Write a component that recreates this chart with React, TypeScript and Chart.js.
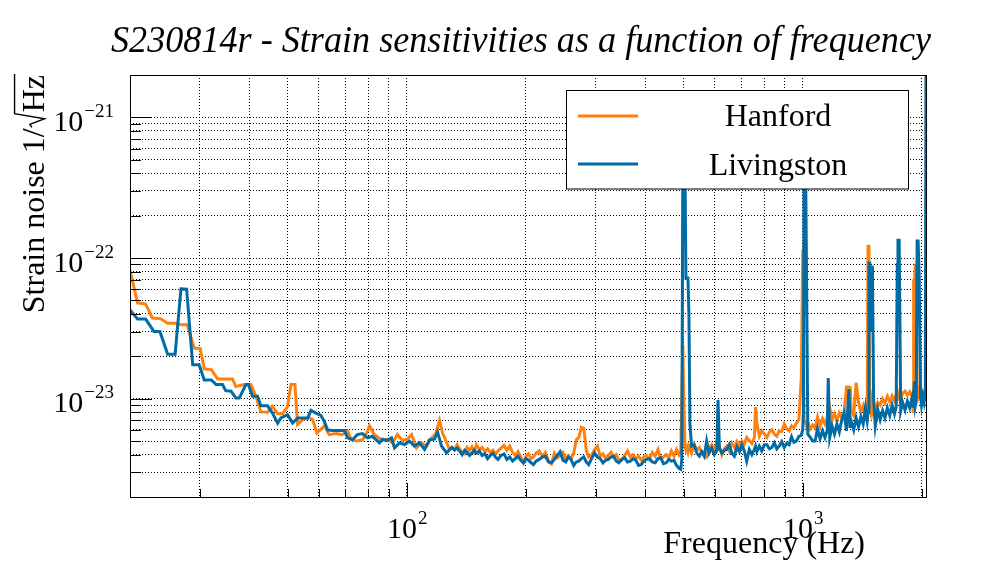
import { useEffect, useRef } from "react";
import { Chart, registerables } from "chart.js";

Chart.register(...registerables);

// frequencies in Hz, strain noise in units of 1e-24 / sqrt(Hz)

// below 130 Hz each detector has its own frequency points
const hanfordLowHz = [
  20, 20.9, 21.9, 22.8, 23.9, 24.9, 26.1, 26.9, 27.9, 29.05,
  30.1, 30.8, 32.1, 33.3, 36.3, 37.0, 38.9, 40.4, 41.6, 42.8,
  44.5, 45.8, 47.2, 48.6, 50.0, 51.0, 52.2, 53.0, 54.6, 56.75,
  57.85, 59.3, 61.9, 63.7, 66.4, 68.8, 70.8, 72.5, 74.6, 77.3,
  79.2, 80.5, 82.9, 86.3, 89.4, 92.0, 94.7, 97.5, 100.4, 102.8,
  105.8, 109.0, 112.2, 115.5, 118.2, 121.0, 123.1, 125.3, 128.2,
];
const hanfordLow = [
  82, 48, 47, 37.4, 37, 34.4, 34.4, 33.5, 33.5, 22.9,
  22.7, 16.3, 16.1, 13.8, 13.8, 12.2, 12.6, 12.6, 10.4, 8.05,
  8.0, 8.8, 7.8, 7.8, 8.8, 12.6, 12.6, 6.55, 7.1, 7.3,
  7.1, 5.7, 6.4, 5.55, 5.65, 5.55, 5.9, 5.1, 5.0, 5.1,
  5.7, 6.4, 5.55, 5.1, 5.15, 4.85, 5.55, 5.05, 5.15, 5.55,
  4.47, 4.85, 4.6, 5.26, 5.6, 7.0, 5.7, 5.1, 4.35,
];

const livingstonLowHz = [
  20, 20.9, 21.9, 23.0, 23.8, 24.9, 26.0, 26.9, 27.8, 28.8,
  29.9, 30.8, 32.1, 33.0, 34.25, 34.9, 36.0, 37.0, 37.75, 39.25,
  39.8, 40.8, 42.0, 42.8, 44.5, 45.8, 47.2, 48.1, 50.0, 51.5,
  53.0, 56.2, 57.3, 59.0, 60.7, 61.9, 63.1, 64.9, 67.2, 69.6,
  70.9, 72.9, 75.0, 77.3, 79.6, 81.9, 85.3, 86.8, 88.9, 91.5,
  93.1, 95.8, 98.7, 101.6, 104.6, 107.7, 110.9, 114.1, 117.5, 119.6,
  122.4, 126.0,
];
const livingstonLow = [
  42.8, 36.8, 36.8, 30, 30, 20.7, 20.7, 60.3, 60, 17.4,
  17.4, 13.6, 13.6, 12.6, 12.6, 11.4, 11.3, 10.1, 10.1, 12.6,
  12.6, 10.4, 10.4, 8.9, 8.9, 7.9, 6.7, 7.3, 7.7, 6.7,
  7.3, 7.3, 8.26, 7.9, 7.6, 6.9, 6.0, 5.93, 5.93, 5.93,
  5.26, 5.1, 5.55, 5.65, 5.26, 5.4, 4.85, 5.15, 5.04, 5.26,
  4.47, 4.85, 4.72, 4.98, 4.6, 4.85, 4.35, 5.1, 5.15, 5.8,
  4.6, 4.12,
];

// from 130 Hz up both detectors share the frequency points
const bandHz = [
  130, 132, 134, 136, 138, 140, 142, 144, 146, 148,
  150, 152.5, 155, 157.5, 160, 162.5, 165, 167.5, 170, 173,
  176, 179, 182, 185, 188, 191, 194, 197, 200, 203,
  206, 209, 212, 216, 220, 224, 228, 232, 236, 240,
  244, 248, 252, 256, 260, 264, 268, 272, 276, 280,
  284, 288, 293, 298, 303, 308, 313, 318, 323, 328,
  333, 338, 343, 349, 355, 361, 367, 373, 379, 385,
  391, 397, 403, 410, 417, 424, 431, 438, 445, 452,
  459, 466, 473, 480, 487, 492, 495, 498, 501, 504,
  507, 510, 513, 516, 519, 524, 532, 540, 548, 556,
  564, 572, 580, 589, 598, 607, 611, 616, 625, 634,
  643, 652, 662, 672, 682, 692, 702, 712, 722, 733,
  744, 755, 760, 766, 777, 788, 800, 812, 824, 836,
  848, 860, 872, 885, 898, 911, 924, 937, 950, 964,
  978, 992, 1000, 1004, 1008, 1016, 1022, 1030, 1045, 1060,
  1075, 1090, 1106, 1122, 1138, 1154, 1160, 1170, 1186, 1203,
  1220, 1237, 1254, 1272, 1290, 1308, 1318, 1326, 1345, 1364,
  1383, 1402, 1421, 1440, 1455, 1462, 1470, 1477, 1485, 1492,
  1500, 1510, 1525, 1547, 1569, 1591, 1613, 1636, 1659, 1682,
  1705, 1722, 1733, 1740, 1752, 1760, 1768, 1788, 1813, 1838,
  1863, 1888, 1900, 1906, 1915, 1925, 1935, 1945, 1956, 1968,
  1976, 1985, 1995, 2010, 2025, 2040, 2048,
];
const hanfordBand = [
  4.5, 4.35, 4.7, 4.4, 4.15, 4.05, 4.5, 4.3, 4.55, 4.2,
  4.7, 4.35, 4.5, 4.2, 4.4, 4.15, 4.3, 4.05, 4.25, 4.45,
  4.65, 4.3, 4.6, 4.15, 3.95, 4.2, 3.85, 3.5, 3.9, 4.05,
  3.75, 3.85, 4.1, 4.25, 3.9, 4.15, 3.6, 3.45, 4.1, 3.8,
  3.95, 4.15, 3.7, 3.95, 3.75, 4.1, 5.1, 5.3, 6.25, 6.15,
  4.3, 3.85, 3.95, 4.35, 4.6, 3.9, 4.05, 3.75, 3.95, 4.15,
  3.85, 4.0, 3.7, 3.65, 3.95, 4.25, 3.85, 4.0, 3.75, 3.9,
  3.65, 3.85, 3.95, 3.7, 4.15, 3.9, 4.35, 3.75, 3.85, 4.0,
  3.8, 4.25, 3.9, 4.35, 4.0, 4.3, 9.6, 24, 9.6, 4.6,
  4.3, 4.5, 4.2, 4.6, 4.45, 4.1, 4.72, 4.3, 4.5, 4.1,
  4.0, 3.85, 4.4, 4.7, 4.3, 4.95, 4.4, 4.55, 4.0, 4.4,
  4.6, 4.25, 4.85, 4.5, 4.95, 4.6, 5.0, 4.75, 5.3, 5.05,
  4.8, 5.3, 8.7, 6.7, 5.4, 5.9, 5.6, 5.3, 5.8, 6.0,
  5.6, 5.4, 5.9, 5.85, 6.6, 6.1, 5.9, 6.4, 6.2, 6.7,
  7.1, 14.4, 114, 20, 6.9, 6.8, 6.4, 6.9, 6.1, 6.5,
  6.2, 7.4, 6.4, 7.2, 6.6, 7.4, 6.9, 8.6, 7.0, 7.8,
  7.0, 7.9, 7.3, 8.0, 12.1, 12.1, 12.0, 8.1, 7.6, 13.0,
  9.5, 8.0, 8.9, 7.6, 8.8, 124, 60, 9.0, 8.2, 9.4,
  8.3, 9.2, 8.2, 9.4, 9.0, 10.0, 9.3, 10.4, 9.5, 10.5,
  9.7, 10.6, 9.9, 10.8, 10.0, 10.6, 9.8, 10.9, 11.3, 10.6,
  11.2, 10.4, 8.1, 69, 69, 89, 89, 11, 10.4, 11.3,
  10.6, 11.4, 10.7, 11.2, 10.6, 11.4, 11.5,
];
const livingstonBand = [
  4.5, 4.3, 4.45, 4.25, 4.0, 4.3, 4.15, 3.95, 4.1, 4.3,
  4.1, 4.25, 3.95, 4.05, 3.75, 3.95, 4.1, 3.85, 3.7, 3.95,
  4.05, 3.7, 3.85, 3.6, 3.75, 3.9, 3.65, 3.5, 3.75, 3.65,
  3.5, 3.4, 3.6, 3.7, 3.85, 3.9, 3.55, 3.5, 3.7, 3.95,
  4.2, 3.65, 3.55, 3.85, 3.7, 3.35, 3.55, 3.6, 3.75, 3.85,
  3.55, 3.4, 3.75, 4.1, 3.85, 3.75, 3.5, 3.65, 3.7, 3.85,
  3.9, 3.6, 3.5, 3.7, 3.8, 3.55, 3.6, 3.75, 3.65, 3.35,
  3.4, 3.6, 3.7, 3.75, 3.55, 3.5, 3.75, 3.8, 3.45, 3.5,
  3.7, 3.6, 3.65, 3.35, 3.2, 3.15, 3.7, 500, 500, 500,
  72, 72, 72, 39, 6.6, 4.6, 4.7, 4.1, 3.9, 4.2,
  3.9, 5.0, 4.1, 4.45, 4.0, 4.3, 9.8, 4.45, 4.1, 4.3,
  4.35, 4.7, 4.1, 3.9, 4.55, 4.2, 4.7, 4.25, 3.6, 4.35,
  4.0, 4.35, 4.6, 4.2, 4.6, 4.25, 4.7, 4.7, 4.4, 4.5,
  4.85, 4.4, 4.6, 4.95, 4.5, 4.8, 4.7, 5.35, 4.9, 5.0,
  5.4, 5.5, 6.0, 8, 600, 600, 90, 5.6, 5.3, 5.0,
  5.0, 6.1, 5.2, 5.9, 5.3, 6.0, 14.0, 5.3, 6.4, 5.6,
  6.6, 5.8, 7.0, 7.9, 5.9, 11.7, 6.2, 6.9, 6.0, 7.3,
  6.3, 7.4, 6.6, 8.6, 7.0, 8.0, 92, 92, 30, 86,
  86, 10, 6.4, 8.4, 7.1, 8.2, 7.3, 8.6, 7.6, 9.0,
  7.8, 8.8, 90, 134, 134, 134, 8.2, 9.4, 8.3, 9.6,
  8.6, 10.1, 8.8, 9.8, 13.3, 8.9, 9.6, 132, 132, 77,
  77, 10.2, 9.0, 10.4, 9.4, 10.98, 3000,
];

const seriesNames = ["Hanford", "Livingston"];
const seriesColors = ["#ff800e", "#006ba4"];

const xRange = [20, 2048];
const yRange = [2e-24, 2e-21];
const xTickExponents = [2, 3];
const yTickExponents = [-23, -22, -21];
const gridSteps = [1, 2, 3, 4, 5, 6, 7, 8, 9];

const SERIF = '"Liberation Serif", "DejaVu Serif", serif';

function logGrid(min: number, max: number) {
  const out: number[] = [];
  for (let e = Math.floor(Math.log10(min)); e <= Math.ceil(Math.log10(max)); e++) {
    for (const s of gridSteps) {
      const v = s * Math.pow(10, e);
      if (v >= min * 0.9999 && v <= max * 1.0001) out.push(v);
    }
  }
  return out;
}

const xGrid = logGrid(xRange[0], xRange[1]);
const yGrid = logGrid(yRange[0], yRange[1]);

function isDecade(v: number) {
  const l = Math.log10(v);
  return Math.abs(l - Math.round(l)) < 1e-6;
}

function drawPower(ctx: CanvasRenderingContext2D, exp: number, x: number, base: number, align: string) {
  const big = `30px ${SERIF}`;
  const small = `19px ${SERIF}`;
  const txt = exp < 0 ? `\u2212${-exp}` : `${exp}`;
  ctx.font = big;
  const w1 = ctx.measureText("10").width;
  ctx.font = small;
  const w2 = ctx.measureText(txt).width;
  const x0 = align === "center" ? x - (w1 + w2) / 2 : x - (w1 + w2);
  ctx.textAlign = "left";
  ctx.textBaseline = "alphabetic";
  ctx.font = big;
  ctx.fillText("10", x0, base);
  ctx.font = small;
  ctx.fillText(txt, x0 + w1 + 1, base - 14);
}

// ROOT-like frame, ticks, labels, titles and legend
const rootDecor = {
  id: "rootDecor",
  afterDraw(chart: any) {
    const { ctx, chartArea: a } = chart;
    const xs = chart.scales.x;
    const ys = chart.scales.y;
    ctx.save();
    ctx.setLineDash([]);

    // legend box
    ctx.fillStyle = "#fff";
    ctx.fillRect(566, 90.5, 342, 98.5);
    ctx.strokeStyle = "#000";
    ctx.lineWidth = 1;
    ctx.strokeRect(566.5, 90.5, 342, 98.5);
    const rows = [116, 164];
    const bases = [125.7, 175];
    seriesNames.forEach((name, i) => {
      ctx.strokeStyle = seriesColors[i];
      ctx.lineWidth = 3;
      ctx.beginPath();
      ctx.moveTo(578, rows[i]);
      ctx.lineTo(638, rows[i]);
      ctx.stroke();
      ctx.fillStyle = "#000";
      ctx.font = `32px ${SERIF}`;
      ctx.textAlign = "center";
      ctx.textBaseline = "alphabetic";
      ctx.fillText(name, 778, bases[i]);
    });

    // frame
    ctx.strokeStyle = "#000";
    ctx.lineWidth = 1;
    ctx.strokeRect(Math.round(a.left) + 0.5, Math.round(a.top) + 0.5, Math.round(a.right - a.left), Math.round(a.bottom - a.top));

    // tick marks
    ctx.beginPath();
    for (const v of yGrid) {
      const py = Math.round(ys.getPixelForValue(v)) + 0.5;
      const len = isDecade(v) ? 22 : 11;
      ctx.moveTo(a.left, py);
      ctx.lineTo(a.left + len, py);
    }
    for (const v of xGrid) {
      const px = Math.round(xs.getPixelForValue(v)) + 0.5;
      const len = isDecade(v) ? 14 : 8;
      ctx.moveTo(px, a.bottom);
      ctx.lineTo(px, a.bottom - len);
    }
    ctx.stroke();

    // tick labels
    ctx.fillStyle = "#000";
    for (const e of yTickExponents) {
      const py = ys.getPixelForValue(Math.pow(10, e));
      drawPower(ctx, e, 113, py + 13.5, "right");
    }
    for (const e of xTickExponents) {
      const px = xs.getPixelForValue(Math.pow(10, e));
      drawPower(ctx, e, px, 538, "center");
    }

    // x title
    ctx.font = `32px ${SERIF}`;
    ctx.textAlign = "right";
    ctx.textBaseline = "alphabetic";
    ctx.fillText("Frequency (Hz)", 865, 553);

    // y title with square root
    ctx.save();
    ctx.translate(44, 75);
    ctx.rotate(-Math.PI / 2);
    const S = 32;
    ctx.font = `${S}px ${SERIF}`;
    ctx.textAlign = "left";
    const t1 = "Strain noise 1/";
    const t2 = "Hz";
    const w1 = ctx.measureText(t1).width;
    const w2 = ctx.measureText(t2).width;
    const rad = 0.5 * S;
    const sx = -(w1 + rad + w2);
    ctx.fillText(t1, sx, 0);
    const rx = sx + w1;
    ctx.strokeStyle = "#000";
    ctx.lineWidth = 1.4;
    ctx.beginPath();
    ctx.moveTo(rx + 1, -0.38 * S);
    ctx.lineTo(rx + 4, -0.44 * S);
    ctx.lineTo(rx + 0.3 * S, 0.02 * S);
    ctx.lineTo(rx + 0.46 * S, -0.92 * S);
    ctx.lineTo(rx + rad + w2 + 1, -0.92 * S);
    ctx.stroke();
    ctx.fillText(t2, rx + rad, 0);
    ctx.restore();

    // main title, condensed like the ROOT rendering
    ctx.save();
    ctx.font = `italic 38px ${SERIF}`;
    const title = "S230814r - Strain sensitivities as a function of frequency";
    const tw = ctx.measureText(title).width;
    ctx.translate(521, 52);
    ctx.scale(820 / tw, 1);
    ctx.textAlign = "center";
    ctx.textBaseline = "alphabetic";
    ctx.fillStyle = "#000";
    ctx.fillText(title, 0, 0);
    ctx.restore();

    ctx.restore();
  },
};

export default function App() {
  const canvasRef = useRef<HTMLCanvasElement>(null);

  useEffect(() => {
    if (!canvasRef.current) return;

    const toPoints = (hz: number[], strain: number[]) =>
      hz.map((f, i) => ({ x: f, y: strain[i] * 1e-24 }));

    const gridOpts = {
      color: "#000",
      lineWidth: 1,
      drawTicks: false,
    };

    const chart = new Chart(canvasRef.current, {
      type: "line",
      data: {
        datasets: [
          {
            label: seriesNames[0],
            data: [...toPoints(hanfordLowHz, hanfordLow), ...toPoints(bandHz, hanfordBand)],
            borderColor: seriesColors[0],
            borderWidth: 3,
            pointRadius: 0,
            tension: 0,
            order: 2,
          },
          {
            label: seriesNames[1],
            data: [...toPoints(livingstonLowHz, livingstonLow), ...toPoints(bandHz, livingstonBand)],
            borderColor: seriesColors[1],
            borderWidth: 3,
            pointRadius: 0,
            tension: 0,
            order: 1,
          },
        ],
      },
      options: {
        animation: false,
        responsive: true,
        maintainAspectRatio: false,
        events: [],
        layout: {
          autoPadding: false,
          padding: { left: 130, top: 75, right: 70, bottom: 75 },
        },
        plugins: {
          legend: { display: false },
          tooltip: { enabled: false },
          title: { display: false },
        },
        scales: {
          x: {
            type: "logarithmic",
            min: xRange[0],
            max: xRange[1],
            ticks: { display: false },
            grid: gridOpts,
            border: { display: false, dash: [1, 2] },
            afterBuildTicks: (scale: any) => {
              scale.ticks = xGrid.map((v) => ({ value: v }));
            },
          },
          y: {
            type: "logarithmic",
            min: yRange[0],
            max: yRange[1],
            ticks: { display: false },
            grid: gridOpts,
            border: { display: false, dash: [1, 2] },
            afterBuildTicks: (scale: any) => {
              scale.ticks = yGrid.map((v) => ({ value: v }));
            },
          },
        },
      },
      plugins: [rootDecor],
    });

    return () => {
      chart.destroy();
    };
  }, []);

  return (
    <div style={{ position: "absolute", left: 0, top: 0, width: 996, height: 572, background: "#fff" }}>
      <canvas ref={canvasRef}></canvas>
    </div>
  );
}
